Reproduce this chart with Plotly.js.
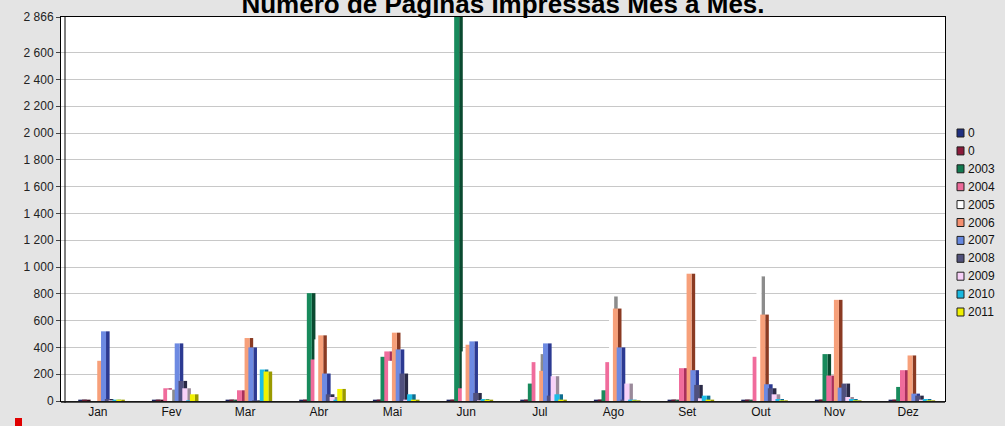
<!DOCTYPE html>
<html>
<head>
<meta charset="utf-8">
<script src="https://cdn.plot.ly/plotly-3.0.1.min.js"></script>
<style>html,body{margin:0;padding:0;background:#e4e4e4;}#chart{width:1005px;height:426px;}</style>
</head>
<body>
<div id="chart"></div>
<script>
// ---- data ----
const months = ['Jan','Fev','Mar','Abr','Mai','Jun','Jul','Ago','Set','Out','Nov','Dez'];
const seriesNames = ['0','0','2003','2004','2005','2006','2007','2008','2009','2010','2011'];
const s0a   = [10,10,10,10,10,10,10,10,10,10,10,10];
const s0b   = [10,10,10,10,10,10,10,10,10,10,10,10];
const y2003 = [0,0,5,805,330,2866,130,80,5,5,350,105];
const y2004 = [0,95,80,310,370,95,290,290,245,330,190,230];
const y2005 = [0,85,0,460,300,370,350,780,0,930,0,0];
const y2006 = [300,0,470,490,510,420,225,690,950,645,755,340];
const y2007 = [520,430,400,205,385,445,430,400,230,125,100,55];
const y2008 = [15,150,5,50,205,60,40,10,120,95,130,40];
const y2009 = [5,95,0,30,10,5,185,130,20,50,30,10];
const y2010 = [10,5,235,10,50,15,50,10,40,15,15,15];
const y2011 = [10,50,220,90,10,10,10,5,10,5,5,5];
const seriesValues = [s0a,s0b,y2003,y2004,y2005,y2006,y2007,y2008,y2009,y2010,y2011];
const yTickVals = [0,200,400,600,800,1000,1200,1400,1600,1800,2000,2200,2400,2600,2866];
const yTickText = ['0','200','400','600','800','1 000','1 200','1 400','1 600','1 800','2 000','2 200','2 400','2 600','2 866'];

// ---- styles ----
const frontColors = ['#1a2260','#6a1830','#188a5c','#f06c9c','#ffffff','#f7a07a','#6d8ae2','#50507e','#f8d2f8','#1cbde6','#f2f200'];
const sideColors  = ['#0c1030','#3a0818','#0a4a30','#a8305c','#8c8c8c','#8a3a22','#2c3a92','#2a2a46','#9a8a9a','#0e6e90','#9a9a00'];
const legendColors= ['#1f2f80','#8b1a3a','#117a50','#ee6a9a','#ffffff','#f59070','#6688e0','#50507a','#f8d0f8','#18b8e0','#f0f000'];

const L = 61, R = 60, T = 17, B = 25, FW = 1005, FH = 426;
const PW = FW - L - R, PH = FH - T - B;
const catPx = PW / months.length;
const px2cat = p => p / catPx;
const xp = px => (px - L) / PW;
const yp = py => (FH - B - py) / PH;

const traces = [];
seriesValues.forEach((vals, i) => {
  const frontOff = px2cat(-19.6 + 3.8 * i);
  const frontW = px2cat(5);
  const sideW = px2cat(3.6);
  traces.push({
    type: 'bar', x: months, y: vals, name: seriesNames[i],
    offset: frontOff + frontW, width: sideW,
    marker: {color: sideColors[i]}, showlegend: false, hoverinfo: 'skip'
  });
  traces.push({
    type: 'bar', x: months, y: vals, name: seriesNames[i],
    offset: frontOff, width: frontW,
    marker: {color: frontColors[i], line: {width: 0}}, showlegend: false
  });
});

const shapes = [];
const annotations = [];
seriesNames.forEach((n, i) => {
  const cy = 133 + 17.9 * i;
  shapes.push({type: 'rect', xref: 'paper', yref: 'paper',
    x0: xp(957), x1: xp(964), y0: yp(cy + 4), y1: yp(cy - 4),
    fillcolor: legendColors[i], line: {color: '#202020', width: 1}});
  annotations.push({xref: 'paper', yref: 'paper', x: xp(966), y: yp(cy),
    xanchor: 'left', yanchor: 'middle', showarrow: false, text: n,
    font: {family: 'Liberation Sans, Arial, sans-serif', size: 12, color: '#111'}});
});
// inner wall line (3D look) and floor edge
shapes.push({type: 'line', xref: 'paper', yref: 'paper', x0: xp(65), x1: xp(65), y0: yp(403), y1: 1,
  line: {color: '#000', width: 1}});
shapes.push({type: 'line', xref: 'paper', yref: 'paper', x0: 0, x1: 1, y0: yp(402), y1: yp(402),
  line: {color: '#222', width: 1.5}});
// small red mark in the lower-left corner
shapes.push({type: 'rect', xref: 'paper', yref: 'paper',
  x0: xp(15), x1: xp(22), y0: yp(426), y1: yp(418), fillcolor: '#e00000', line: {width: 0}});

const layout = {
  width: FW, height: FH,
  paper_bgcolor: '#e4e4e4', plot_bgcolor: '#ffffff',
  margin: {l: L, r: R, t: T, b: B},
  barmode: 'overlay',
  showlegend: false,
  font: {family: 'Liberation Sans, Arial, sans-serif', color: '#111'},
  title: {text: '<b>Número de Páginas Impressas Mês a Mês.</b>',
    font: {size: 26, color: '#000', family: 'Liberation Sans, Arial, sans-serif'},
    x: 0.5, xref: 'paper', xanchor: 'center', yref: 'container', y: 1 - 13 / FH, yanchor: 'bottom'},
  xaxis: {type: 'category', range: [-0.5, 11.5], showgrid: false, ticks: '',
    showline: true, linecolor: '#000', linewidth: 1, mirror: true,
    tickfont: {size: 12, color: '#111'}, fixedrange: true},
  yaxis: {range: [0, 2866], tickmode: 'array', tickvals: yTickVals, ticktext: yTickText,
    showgrid: true, gridcolor: '#c8c8c8', gridwidth: 1, zeroline: false,
    ticks: 'outside', ticklen: 4, tickcolor: '#444',
    showline: true, linecolor: '#000', linewidth: 1, mirror: true,
    tickfont: {size: 12, color: '#222'}, fixedrange: true},
  shapes: shapes,
  annotations: annotations
};

Plotly.newPlot('chart', traces, layout, {displayModeBar: false, staticPlot: true});
</script>
</body>
</html>
